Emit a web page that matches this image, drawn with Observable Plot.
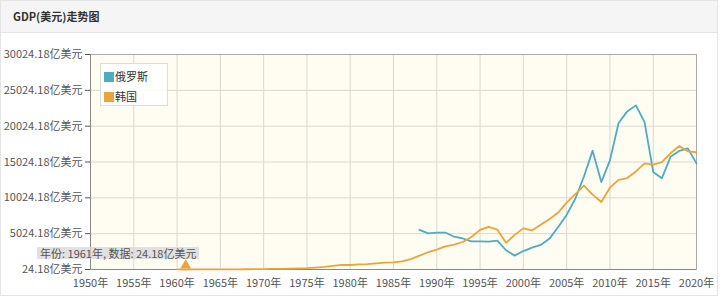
<!DOCTYPE html>
<html><head><meta charset="utf-8">
<script src="https://cdn.jsdelivr.net/npm/d3@7"></script>
<script src="https://cdn.jsdelivr.net/npm/@observablehq/plot@0.6"></script>
<style>
html,body{margin:0;padding:0;background:#fff;}
#card{position:relative;width:716px;height:294px;border:1px solid #e4e4e4;overflow:hidden;font-family:"Noto Sans CJK SC","Microsoft YaHei",sans-serif;}
#title{height:31px;background:#f5f5f5;border-bottom:1px solid #e6e6e6;font-size:11px;font-weight:bold;color:#333;line-height:31px;padding-left:12px;}
#legend{position:absolute;left:99px;top:62px;width:66px;height:41px;background:rgba(255,255,255,0.9);border:1px solid #ddd;font-size:11px;color:#333;}
#legend div{position:absolute;left:3px;height:12px;line-height:12px;}
#legend span{display:inline-block;width:10px;height:10px;vertical-align:-1px;margin-right:1px;}
#tip{position:absolute;left:36px;top:246px;height:12px;padding:0 3px;background:rgba(215,215,215,0.75);font-size:11px;color:#555;line-height:12px;white-space:nowrap;}
</style></head>
<body>
<div id="card">
<div id="title">GDP(美元)走势图</div>
<div id="chart"></div>
<div id="legend"><div style="top:6px"><span style="background:#4fabc4"></span>俄罗斯</div><div style="top:26px"><span style="background:#eaa53a"></span>韩国</div></div>
<div id="tip">年份: 1961年, 数据: 24.18亿美元</div>
</div>
<script>
const seriesNames = ["俄罗斯", "韩国"];
const seriesColors = ["#4fabc4", "#eaa53a"];
const russiaYears = d3.range(1988, 2021);
const russiaValues = [5547, 5065, 5168, 5180, 4602, 4351, 3951, 3955, 3917, 4049, 2710, 1959, 2597, 3066, 3455, 4303, 5910, 7640, 9899, 12997, 16608, 12226, 15249, 20459, 22083, 22925, 20592, 13635, 12768, 15742, 16573, 16931, 14835];
const koreaYears = d3.range(1960, 2021);
const koreaValues = [39.6, 24.18, 28.1, 39.9, 34.6, 30.2, 38.1, 47.0, 59.6, 76.6, 90.0, 98.9, 108, 139, 194, 218, 298, 384, 520, 665, 654, 729, 784, 877, 975, 1013, 1155, 1461, 1966, 2435, 2793, 3257, 3501, 3863, 4556, 5561, 5981, 5575, 3742, 4852, 5762, 5477, 6272, 7027, 7932, 9349, 10532, 11726, 10473, 9439, 11441, 12532, 12784, 13708, 14843, 14660, 14997, 16239, 17254, 16514, 16383];
const yTicks = [24.18, 5024.18, 10024.18, 15024.18, 20024.18, 25024.18, 30024.18];
const xTicks = [1950, 1955, 1960, 1965, 1970, 1975, 1980, 1985, 1990, 1995, 2000, 2005, 2010, 2015, 2020];
const hoverYear = 1961;
const hoverValue = 24.18;

const data = [
  ...russiaYears.map((y, i) => ({year: y, value: russiaValues[i], s: seriesNames[0]})),
  ...koreaYears.map((y, i) => ({year: y, value: koreaValues[i], s: seriesNames[1]}))
];

const chart = Plot.plot({
  width: 716, height: 262,
  marginTop: 21, marginBottom: 26, marginLeft: 89, marginRight: 21,
  style: {fontFamily: '"Noto Sans CJK SC", sans-serif', fontSize: "11px", color: "#555", background: "transparent"},
  x: {domain: [1950, 2020], ticks: xTicks, tickFormat: d => d + "年", tickSize: 0, tickPadding: 10, label: null},
  y: {domain: [24.18, 30024.18], ticks: yTicks, tickFormat: d => d.toFixed(2) + "亿美元", tickSize: 5, tickPadding: 3, label: null},
  color: {domain: seriesNames, range: seriesColors},
  marks: [
    Plot.frame({fill: "#fffcf2", stroke: "none"}),
    Plot.gridX(xTicks, {stroke: "#ddd8cc", strokeOpacity: 1}),
    Plot.gridY(yTicks, {stroke: "#ddd8cc", strokeOpacity: 1}),
    Plot.frame({stroke: "#aaa"}),
    Plot.ruleX([1950], {stroke: "#888"}),
    Plot.ruleY([24.18], {stroke: "#888"}),
    Plot.line(data, {x: "year", y: "value", z: "s", stroke: "s", strokeWidth: 1.8}),
    Plot.dot([{year: hoverYear, value: hoverValue}], {x: "year", y: "value", symbol: "triangle", r: 4, fill: "#eaa53a", dy: -4})
  ]
});
document.getElementById("chart").appendChild(chart);
</script>
</body></html>
